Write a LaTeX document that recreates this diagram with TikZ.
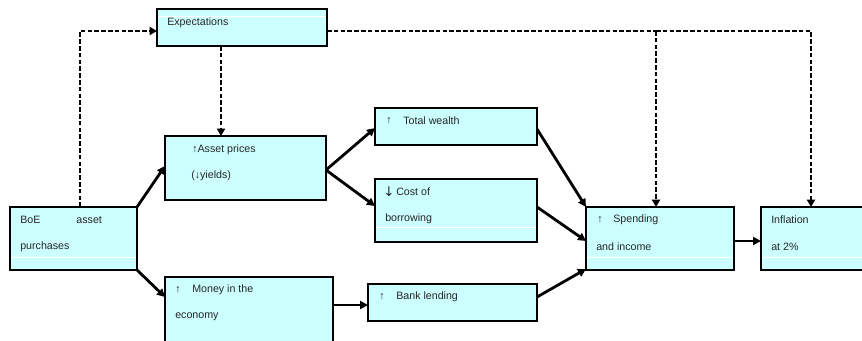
\documentclass[tikz,border=0pt]{standalone}
\usepackage{fontspec}
\setmainfont{Liberation Sans}
\newfontfamily\arrowfont{DejaVu Sans}
\usetikzlibrary{arrows.meta}
\begin{document}
\begin{tikzpicture}[x=0.75pt, y=-0.75pt, font=\fontsize{8}{9.6}\selectfont]
    % Node styles
    \tikzstyle{none}=[inner sep=0mm]
    \tikzstyle{label}=[inner sep=0mm, anchor=west, text=black!85]
    \tikzstyle{cyan box}=[fill={rgb,255: red,204; green,255; blue,255}, draw=black, line width=0.9pt, shape=rectangle, inner sep=0mm, outer sep=0mm]
    % Edge styles
    \tikzstyle{arrow}=[-{Triangle[length=6pt, width=6pt]}, line width=2.1pt]
    \tikzstyle{dashed line}=[line width=2.1pt, dash pattern=on 3.5pt off 1.6pt]
    \tikzstyle{dashed arrow}=[-{Triangle[length=5.5pt, width=6pt]}, line width=2.1pt, dash pattern=on 3.5pt off 1.6pt]
    \tikzstyle{white rule}=[draw=white, line width=0.6pt]

    \clip (0, 0) rectangle (862, 340);

    % boxes
    \node [style=cyan box, minimum width=127.5pt, minimum height=27.75pt] (0) at (242, 27.5) {};
    \node [style=cyan box, minimum width=120.75pt, minimum height=48pt] (1) at (245.5, 168) {};
    \node [style=cyan box, minimum width=95.25pt, minimum height=47.25pt] (2) at (73.5, 238.5) {};
    \node [style=cyan box, minimum width=126pt, minimum height=52.5pt] (3) at (249, 312) {};
    \node [style=cyan box, minimum width=126.75pt, minimum height=27.75pt] (4) at (452.5, 302.5) {};
    \node [style=cyan box, minimum width=121.5pt, minimum height=27.75pt] (5) at (456, 126.5) {};
    \node [style=cyan box, minimum width=121.5pt, minimum height=47.25pt] (6) at (456, 210.5) {};
    \node [style=cyan box, minimum width=111pt, minimum height=47.25pt] (7) at (660, 238.5) {};
    \node [style=cyan box, minimum width=89.25pt, minimum height=47.25pt] (8) at (820.5, 238.5) {};

    \draw [style=white rule] (158, 16) -- (326, 16);
    \draw [style=white rule] (376, 227) -- (536, 227);
    \draw [style=white rule] (11, 257) -- (136, 257);
    \draw [style=white rule] (587, 257) -- (733, 257);
    \draw [style=white rule] (762, 257) -- (862, 257);

    % texts
    \node [style=label] (10) at (167, 23) {Expectations};
    \node [style=label] (11) at (192, 150) {↑Asset prices};
    \node [style=label] (12) at (191, 176) {(↓yields)};
    \node [style=label] (13) at (20, 220) {BoE\hspace{27pt}asset};
    \node [style=label] (14) at (20, 247) {purchases};
    \node [style=label] (15) at (175, 290) {↑};
    \node [style=label] (16) at (192, 290) {Money in the};
    \node [style=label] (17) at (175, 317) {economy};
    \node [style=label] (18) at (379, 297) {↑};
    \node [style=label] (19) at (396, 297) {Bank lending};
    \node [style=label] (30) at (386, 121) {↑};
    \node [style=label] (31) at (403, 121) {Total wealth};
    \node [style=label] (32) at (383, 192) {{\arrowfont\fontsize{10}{12}\selectfont ↓}};
    \node [style=label] (33) at (396, 192) {Cost of};
    \node [style=label] (34) at (385, 219) {borrowing};
    \node [style=label] (35) at (597, 220) {↑};
    \node [style=label] (36) at (613, 220) {Spending};
    \node [style=label] (37) at (596, 247) {and income};
    \node [style=label] (38) at (771, 220) {Inflation};
    \node [style=label] (39) at (771, 247) {at 2\%};

    % connector ends
    \node [style=none] (40) at (137, 207) {};
    \node [style=none] (41) at (165, 166) {};
    \node [style=none] (42) at (137, 270) {};
    \node [style=none] (43) at (165, 297) {};
    \node [style=none] (44) at (326, 170) {};
    \node [style=none] (45) at (375, 128) {};
    \node [style=none] (46) at (375, 206) {};
    \node [style=none] (47) at (333, 305) {};
    \node [style=none] (48) at (368, 305) {};
    \node [style=none] (49) at (537, 129) {};
    \node [style=none] (50) at (586, 207) {};
    \node [style=none] (51) at (537, 207) {};
    \node [style=none] (52) at (586, 241) {};
    \node [style=none] (53) at (537, 297) {};
    \node [style=none] (54) at (586, 269) {};
    \node [style=none] (55) at (734, 241) {};
    \node [style=none] (56) at (761, 241) {};
    \node [style=none] (60) at (80, 207) {};
    \node [style=none] (61) at (157, 31) {};
    \node [style=none] (62) at (221, 46) {};
    \node [style=none] (63) at (221, 136) {};
    \node [style=none] (64) at (327, 31) {};
    \node [style=none] (65) at (656, 31) {};
    \node [style=none] (66) at (656, 207) {};
    \node [style=none] (67) at (811, 207) {};

    \draw [style=arrow] (40.center) to (41.center);
    \draw [style=arrow] (42.center) to (43.center);
    \draw [style=arrow] (44.center) to (45.center);
    \draw [style=arrow] (44.center) to (46.center);
    \draw [style=arrow] (47.center) to (48.center);
    \draw [style=arrow] (49.center) to (50.center);
    \draw [style=arrow] (51.center) to (52.center);
    \draw [style=arrow] (53.center) to (54.center);
    \draw [style=arrow] (55.center) to (56.center);
    \draw [style=dashed arrow] (60.center) |- (61.center);
    \draw [style=dashed arrow] (62.center) to (63.center);
    \draw [style=dashed line] (64.center) to (65.center);
    \draw [style=dashed arrow] (65.center) -| (67.center);
    \draw [style=dashed arrow] (65.center) to (66.center);
\end{tikzpicture}
\end{document}
